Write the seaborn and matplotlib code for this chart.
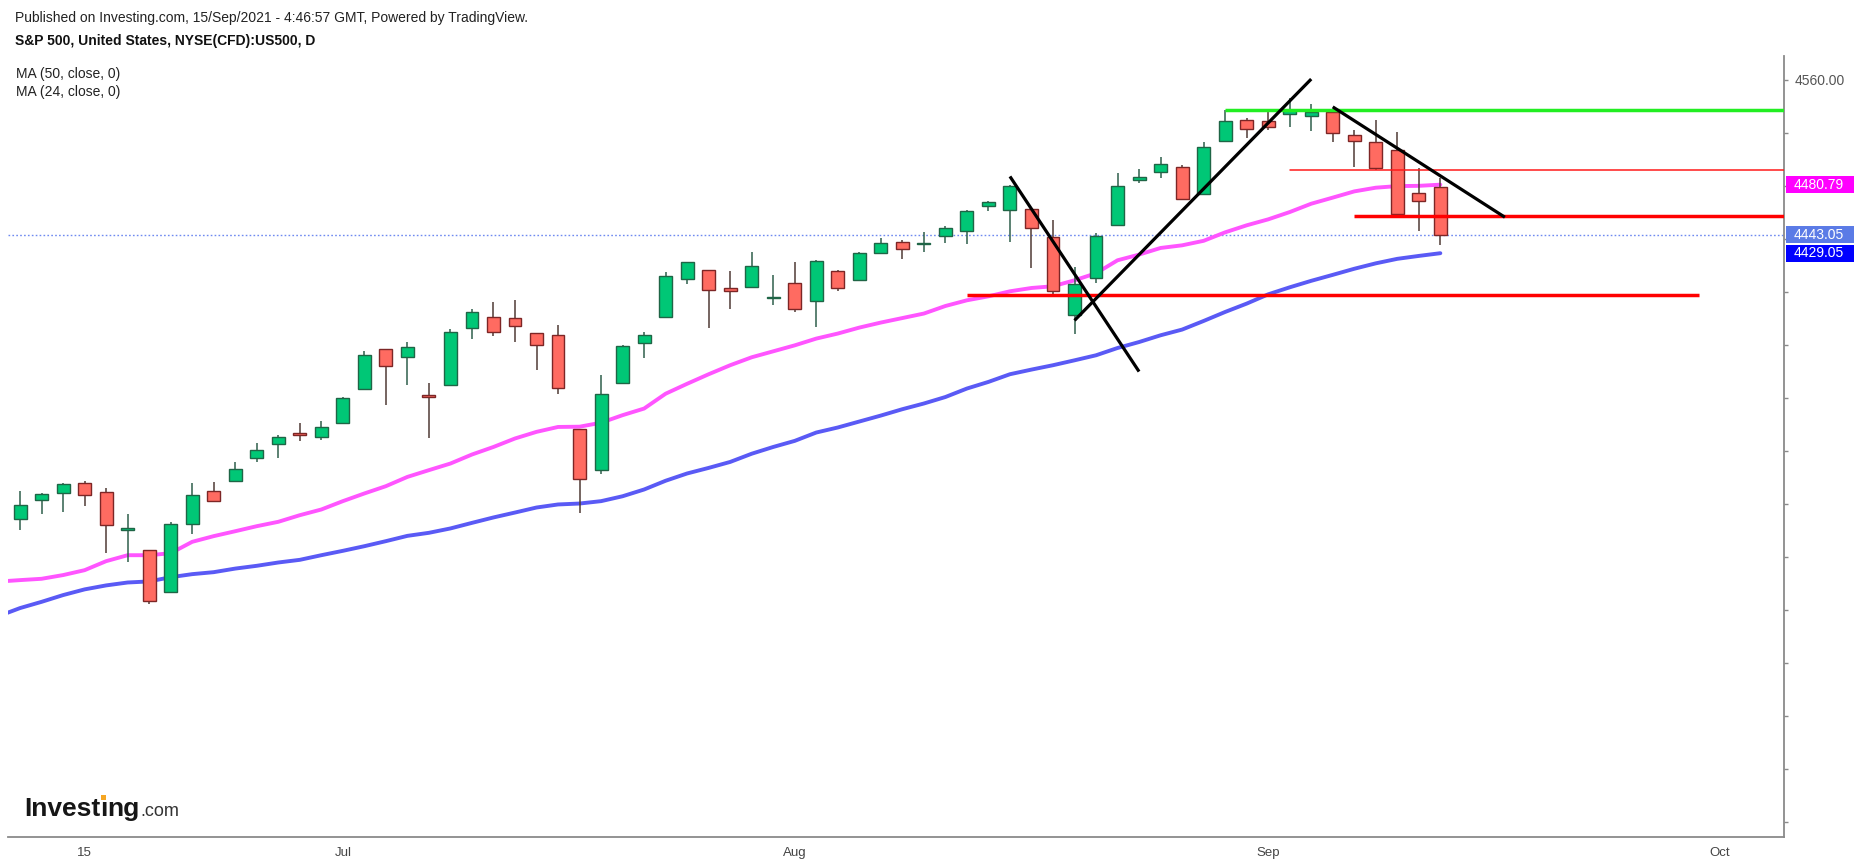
import matplotlib
matplotlib.use("Agg")
import matplotlib.pyplot as plt
import matplotlib.transforms as mtransforms
from matplotlib.patches import Rectangle
import numpy as np
import pandas as pd
import seaborn as sns

# ---------------- data ----------------
dates = ["2021-06-10", "2021-06-11", "2021-06-14", "2021-06-15", "2021-06-16", "2021-06-17", "2021-06-18",
         "2021-06-21", "2021-06-22", "2021-06-23", "2021-06-24", "2021-06-25", "2021-06-28", "2021-06-29",
         "2021-06-30", "2021-07-01", "2021-07-02", "2021-07-06", "2021-07-07", "2021-07-08", "2021-07-09",
         "2021-07-12", "2021-07-13", "2021-07-14", "2021-07-15", "2021-07-16", "2021-07-19", "2021-07-20",
         "2021-07-21", "2021-07-22", "2021-07-23", "2021-07-26", "2021-07-27", "2021-07-28", "2021-07-29",
         "2021-07-30", "2021-08-02", "2021-08-03", "2021-08-04", "2021-08-05", "2021-08-06", "2021-08-09",
         "2021-08-10", "2021-08-11", "2021-08-12", "2021-08-13", "2021-08-16", "2021-08-17", "2021-08-18",
         "2021-08-19", "2021-08-20", "2021-08-23", "2021-08-24", "2021-08-25", "2021-08-26", "2021-08-27",
         "2021-08-30", "2021-08-31", "2021-09-01", "2021-09-02", "2021-09-03", "2021-09-07", "2021-09-08",
         "2021-09-09", "2021-09-10", "2021-09-13", "2021-09-14"]

opens = [4228.56, 4242.90, 4248.31, 4255.28, 4248.87, 4220.37, 4204.78, 4173.40, 4224.61, 4249.27,
         4256.97, 4274.45, 4284.90, 4293.21, 4290.65, 4300.73, 4326.60, 4356.46, 4351.01, 4321.07,
         4329.38, 4372.41, 4381.07, 4380.11, 4369.02, 4367.43, 4296.40, 4265.11, 4331.13, 4361.27,
         4381.20, 4409.58, 4416.38, 4402.95, 4403.59, 4395.12, 4406.86, 4392.74, 4415.95, 4408.86,
         4429.07, 4437.77, 4435.79, 4442.18, 4446.08, 4464.84, 4461.65, 4462.12, 4440.94, 4382.44,
         4410.56, 4450.29, 4484.40, 4490.45, 4493.75, 4474.10, 4513.76, 4529.75, 4528.80, 4534.48,
         4532.42, 4535.38, 4518.09, 4513.02, 4506.92, 4474.81, 4479.33]
highs = [4249.74, 4248.38, 4255.59, 4257.16, 4251.89, 4232.29, 4204.78, 4226.24, 4255.84, 4256.60,
         4271.28, 4286.12, 4292.14, 4300.52, 4302.43, 4320.66, 4355.43, 4356.46, 4361.88, 4330.88,
         4371.60, 4386.68, 4392.37, 4393.68, 4369.02, 4375.09, 4296.40, 4336.84, 4359.70, 4369.87,
         4415.18, 4422.73, 4416.38, 4415.47, 4429.97, 4412.25, 4422.18, 4423.79, 4416.17, 4429.76,
         4440.82, 4439.39, 4445.21, 4449.44, 4461.77, 4468.37, 4480.26, 4462.12, 4454.32, 4418.61,
         4444.35, 4489.88, 4492.81, 4501.71, 4495.90, 4513.33, 4537.36, 4531.39, 4537.11, 4545.85,
         4541.45, 4535.38, 4521.79, 4529.90, 4520.47, 4492.99, 4485.68]
lows = [4220.34, 4232.25, 4234.07, 4238.35, 4202.45, 4196.05, 4164.40, 4173.40, 4217.27, 4241.43,
        4256.97, 4271.16, 4274.67, 4287.04, 4287.96, 4300.73, 4326.60, 4314.37, 4329.79, 4289.37,
        4329.38, 4364.03, 4366.92, 4362.36, 4340.70, 4322.53, 4233.13, 4262.05, 4331.13, 4350.06,
        4381.20, 4405.45, 4372.51, 4387.01, 4403.59, 4389.65, 4384.81, 4373.00, 4400.23, 4408.86,
        4429.07, 4424.74, 4430.03, 4436.42, 4435.96, 4460.82, 4437.66, 4417.83, 4397.59, 4367.73,
        4406.80, 4450.29, 4482.28, 4485.66, 4468.99, 4474.10, 4513.76, 4515.80, 4522.02, 4524.66,
        4521.65, 4513.00, 4493.95, 4492.07, 4457.66, 4445.70, 4435.46]
closes = [4239.18, 4247.44, 4255.15, 4246.59, 4223.70, 4221.86, 4166.45, 4224.79, 4246.44, 4241.84,
          4266.49, 4280.70, 4290.61, 4291.80, 4297.50, 4319.94, 4352.34, 4343.54, 4358.13, 4320.82,
          4369.55, 4384.63, 4369.21, 4374.30, 4360.03, 4327.16, 4258.49, 4323.06, 4358.69, 4367.48,
          4411.79, 4422.30, 4401.46, 4400.64, 4419.15, 4395.26, 4387.16, 4423.15, 4402.66, 4429.10,
          4436.52, 4432.35, 4436.75, 4447.70, 4460.83, 4468.00, 4479.71, 4448.08, 4400.27, 4405.80,
          4441.67, 4479.53, 4486.23, 4496.19, 4470.00, 4509.37, 4528.79, 4522.68, 4524.09, 4536.95,
          4535.43, 4520.03, 4514.07, 4493.28, 4458.58, 4468.73, 4443.05]

# moving averages (first value = 2021-06-09 session, partly off the left edge)
ma_dates = ["2021-06-09"] + dates
ma24 = [4181.2,
        4182.3, 4183.3, 4186.1, 4189.8, 4196.6, 4201.1, 4201.1, 4202.6, 4211.2, 4215.5,
        4219.2, 4223.0, 4226.3, 4231.3, 4235.6, 4241.9, 4247.7, 4253.2, 4260.2, 4265.3,
        4270.3, 4277.1, 4282.8, 4289.2, 4294.2, 4297.9, 4298.1, 4301.1, 4306.8, 4311.8,
        4323.0, 4330.5, 4337.7, 4344.5, 4350.5, 4355.0, 4359.5, 4364.6, 4368.4, 4372.9,
        4376.7, 4380.1, 4383.5, 4389.2, 4393.5, 4396.5, 4400.3, 4402.8, 4404.1, 4408.6,
        4413.9, 4423.7, 4428.0, 4433.0, 4435.0, 4438.4, 4444.8, 4450.1, 4454.6, 4460.1,
        4466.4, 4471.0, 4475.7, 4478.5, 4479.7, 4479.9, 4480.79]
ma50 = [4155.1,
        4161.2, 4165.9, 4171.0, 4175.3, 4178.3, 4180.5, 4181.3, 4184.5, 4186.8, 4188.3,
        4191.0, 4193.1, 4195.6, 4197.6, 4201.1, 4204.4, 4207.9, 4211.7, 4215.7, 4218.0,
        4221.3, 4225.5, 4229.6, 4233.3, 4237.1, 4239.4, 4240.1, 4241.9, 4245.6, 4250.7,
        4257.3, 4262.8, 4267.0, 4271.5, 4277.7, 4282.8, 4287.4, 4293.7, 4297.5, 4302.0,
        4306.5, 4311.3, 4315.6, 4320.5, 4326.9, 4331.9, 4337.7, 4341.2, 4344.5, 4348.2,
        4352.0, 4357.5, 4362.0, 4367.1, 4371.4, 4377.9, 4384.7, 4391.0, 4398.0, 4403.3,
        4408.2, 4412.7, 4417.3, 4421.4, 4424.8, 4427.0, 4429.05]

future_dates = ["2021-09-15", "2021-09-16", "2021-09-17", "2021-09-20", "2021-09-21", "2021-09-22",
                "2021-09-23", "2021-09-24", "2021-09-27", "2021-09-28", "2021-09-29", "2021-09-30",
                "2021-10-01", "2021-10-04"]

tick_dates = ["2021-06-15", "2021-06-22", "2021-07-01", "2021-07-09", "2021-07-16", "2021-07-23",
              "2021-08-02", "2021-08-09", "2021-08-16", "2021-08-23", "2021-09-01", "2021-09-09",
              "2021-09-16", "2021-09-23", "2021-10-01"]
tick_labels = ["15", "", "Jul", "", "", "", "Aug", "", "", "", "Sep", "", "", "", "Oct"]

last_price = 4443.05
ma24_last = 4480.79
ma50_last = 4429.05
y_ticks = list(range(4000, 4561, 40))

# drawn trend lines: (start date, start value, end date, end value)
black_lines = [("2021-08-16", 4487.0, "2021-08-24", 4339.7),
               ("2021-08-19", 4378.3, "2021-09-03", 4560.5),
               ("2021-09-07", 4539.5, "2021-09-17", 4456.2)]
green_level = ("2021-08-30", 4537.4)
thin_red_level = ("2021-09-02", 4492.0)
thick_red_level = ("2021-09-08", 4457.2)
long_red_level = ("2021-08-12", "2021-09-30", 4397.8)

# ---------------- positions (session index) ----------------
sessions = ["2021-06-09"] + dates + future_dates
pos = {d: i - 1 for i, d in enumerate(sessions)}

sns.set_theme(style="white")
plt.rcParams["font.family"] = ["Liberation Sans", "DejaVu Sans"]

W, H = 1854, 866
fig = plt.figure(figsize=(W / 100, H / 100), dpi=100)
fig.patch.set_facecolor("white")
ax_l, ax_r, ax_t, ax_b = 8, 1784, 56, 837
ax = fig.add_axes([ax_l / W, (H - ax_b) / H, (ax_r - ax_l) / W, (ax_b - ax_t) / H])
ax.set_facecolor("white")

x_left, x_right = -0.56, 81.97
y_lo, y_hi = 3988.4, 4577.9
ax.set_xlim(x_left, x_right)
ax.set_ylim(y_lo, y_hi)

# moving averages
ma_df = pd.DataFrame({"x": [pos[d] for d in ma_dates], "ma24": ma24, "ma50": ma50})
sns.lineplot(data=ma_df, x="x", y="ma50", ax=ax, color="#5a5af5", lw=2.8, zorder=2, legend=False)
sns.lineplot(data=ma_df, x="x", y="ma24", ax=ax, color="#ff55ff", lw=2.8, zorder=2, legend=False)

# last price dotted line
ax.axhline(last_price, color="#6f8af0", lw=1.0, ls=(0, (1.2, 1.6)), zorder=1)

# candles
df = pd.DataFrame({"x": [pos[d] for d in dates], "o": opens, "h": highs, "l": lows, "c": closes})
up = df["c"] >= df["o"]
body_col = np.where(up, "#00c776", "#ff6b61")
edge_col = np.where(up, "#1f6546", "#7d2626")
wick_col = np.where(up, "#2f5f4c", "#4f3a35")
ax.vlines(df["x"], df["l"], df["h"], colors=wick_col, lw=1.1, zorder=3)
body_bottom = np.minimum(df["o"], df["c"])
body_h = np.maximum(np.abs(df["c"] - df["o"]), 1.0)
ax.bar(df["x"], body_h, bottom=body_bottom, width=0.6, color=body_col,
       edgecolor=edge_col, linewidth=1.0, zorder=4)

# drawn levels and trend lines
ax.plot([pos[green_level[0]], x_right], [green_level[1]] * 2, color="#22ee22", lw=2.5, zorder=5,
        solid_capstyle="butt")
ax.plot([pos[thin_red_level[0]], x_right], [thin_red_level[1]] * 2, color="#ff1a1a", lw=1.1, zorder=5)
ax.plot([pos[thick_red_level[0]], x_right], [thick_red_level[1]] * 2, color="#ff0000", lw=2.5, zorder=5,
        solid_capstyle="butt")
ax.plot([pos[long_red_level[0]], pos[long_red_level[1]]], [long_red_level[2]] * 2, color="#ff0000",
        lw=2.5, zorder=5, solid_capstyle="butt")
for d0, v0, d1, v1 in black_lines:
    ax.plot([pos[d0], pos[d1]], [v0, v1], color="black", lw=2.3, zorder=6, solid_capstyle="butt")

# axes styling
for s in ["left", "top"]:
    ax.spines[s].set_visible(False)
for s in ["right", "bottom"]:
    ax.spines[s].set_color("#8a8a8a")
    ax.spines[s].set_linewidth(1.3)
ax.yaxis.tick_right()
ax.set_yticks(y_ticks)
ax.set_yticklabels(["4560.00" if v == 4560 else "" for v in y_ticks])
ax.set_xticks([pos[d] for d in tick_dates])
ax.set_xticklabels(tick_labels)
ax.tick_params(axis="both", direction="out", length=3, width=1, color="#8a8a8a",
               labelcolor="#555555", labelsize=10)
ax.tick_params(axis="y", pad=4.5)
ax.tick_params(axis="x", pad=4, labelcolor="#444444", labelsize=9.5)
ax.set_xlabel("")
ax.set_ylabel("")
ax.grid(False)

# price labels on right axis
blend = mtransforms.blended_transform_factory(ax.transAxes, ax.transData)
axw = ax_r - ax_l
ppu = (ax_b - ax_t) / (y_hi - y_lo)
box_h = 17 / ppu
for val, col in [(ma24_last, "#ff00ff"), (last_price, "#5b7be6"), (ma50_last, "#0000ff")]:
    ax.add_patch(Rectangle((1.0 + 2 / axw, val - box_h / 2), (W - ax_r) / axw, box_h,
                           transform=blend, facecolor=col, edgecolor="none", clip_on=False, zorder=10))
    ax.text(1.0 + 10 / axw, val, f"{val:.2f}", transform=blend, color="white", fontsize=10,
            va="center", ha="left", zorder=11, clip_on=False)

# header texts
fig.text(15 / W, 1 - 18 / H, "Published on Investing.com, 15/Sep/2021 - 4:46:57 GMT, Powered by TradingView.",
         fontsize=10, color="#222222", va="center", ha="left")
fig.text(15 / W, 1 - 41 / H, "S&P 500, United States, NYSE(CFD):US500, D",
         fontsize=10, color="#111111", fontweight="bold", va="center", ha="left")
fig.text(16 / W, 1 - 74 / H, "MA (50, close, 0)", fontsize=10, color="#222222", va="center", ha="left")
fig.text(16 / W, 1 - 92 / H, "MA (24, close, 0)", fontsize=10, color="#222222", va="center", ha="left")

# logo
base_y = 1 - 816 / H
fig.canvas.draw()
rend = fig.canvas.get_renderer()
xcur = 24
parts = [("Invest", 19, "bold", "#161616"), ("\u0131", 19, "bold", "#161616"),
         ("ng", 19, "bold", "#161616"), (".com", 13, "normal", "#333333")]
dot_x = None
for txt, fs, fw, col in parts:
    t = fig.text(xcur / W, base_y, txt, fontsize=fs, fontweight=fw, color=col, va="baseline", ha="left")
    bb = t.get_window_extent(renderer=rend)
    if txt == "\u0131":
        dot_x = (bb.x0 + bb.x1) / 2
    xcur = bb.x1
if dot_x is not None:
    fig.patches.append(Rectangle(((dot_x - 2.5) / W, (H - 800) / H), 5 / W, 5 / H,
                                 transform=fig.transFigure, facecolor="#f5a623", edgecolor="none"))

fig.savefig("out.png", dpi=100, facecolor="white")
